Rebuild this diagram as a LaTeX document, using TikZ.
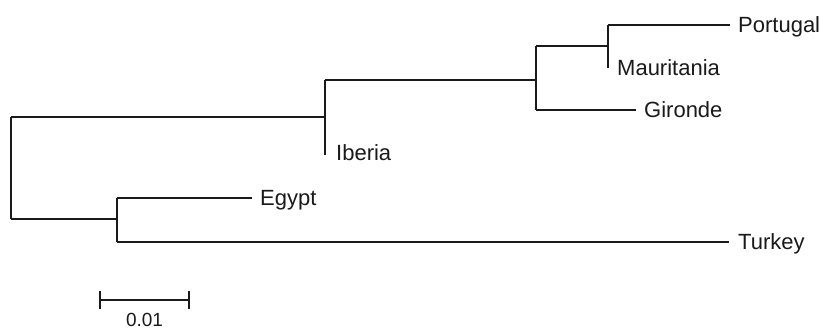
\documentclass[tikz,border=0pt]{standalone}
\usepackage{fontspec}
\setmainfont{Liberation Sans}
\definecolor{ink}{HTML}{1A1A1A}
\begin{document}
\begin{tikzpicture}[x=1pt,y=-1pt,
  branch/.style={draw=ink,line width=2.3pt,line cap=butt,line join=miter},
  taxon/.style={anchor=west,inner sep=0pt,inner xsep=8pt,text height=15.5pt,text depth=0pt,
    text=ink,font=\fontsize{22}{26}\selectfont}]
\useasboundingbox[fill=white] (0,0) rectangle (823,329);
% internal nodes
\coordinate (rt) at (11,117);
\coordinate (rb) at (11,219);
\coordinate (n1) at (325,117);
\coordinate (n1t) at (325,80);
\coordinate (n1b) at (325,155);
\coordinate (n2) at (536,80);
\coordinate (n2t) at (536,46);
\coordinate (n2b) at (536,110);
\coordinate (n3) at (608,46);
\coordinate (n3t) at (608,25);
\coordinate (n3b) at (608,68);
\coordinate (n4) at (117,219);
\coordinate (n4t) at (117,198);
\coordinate (n4b) at (117,242);
% taxa
\node[taxon] (portugal) at (730,25) {Portugal};
\node[taxon,inner xsep=9pt] (mauritania) at (608,68) {Mauritania};
\node[taxon] (gironde) at (636,110) {Gironde};
\node[taxon,inner xsep=10pt] (iberia) at (326,153) {Iberia};
\node[taxon] (egypt) at (252,198) {Egypt};
\node[taxon,inner xsep=9pt] (turkey) at (729,242) {Turkey};
% branches
\draw[branch] (rt) -- (rb);
\draw[branch] (rt) -- (n1);
\draw[branch] (rb) -- (n4);
\draw[branch] (n1t) -- (n1b);
\draw[branch] (n1t) -- (n2);
\draw[branch] (n2t) -- (n2b);
\draw[branch] (n2t) -- (n3);
\draw[branch] (n2b) -- (gironde.west);
\draw[branch] (n3t) -- (n3b);
\draw[branch] (n3t) -- (portugal.west);
\draw[branch] (n4t) -- (n4b);
\draw[branch] (n4t) -- (egypt.west);
\draw[branch] (n4b) -- (turkey.west);
% scale bar
\coordinate (sl) at (100,300);
\coordinate (sr) at (189,300);
\draw[branch] (sl) -- (sr);
\draw[branch] ([yshift=-9pt]sl) -- ([yshift=9pt]sl);
\draw[branch] ([yshift=-9pt]sr) -- ([yshift=9pt]sr);
\node[taxon,anchor=north,inner xsep=0pt,text height=13pt,font=\fontsize{19}{22}\selectfont] (scale) at (144.5,313) {0.01};
\end{tikzpicture}
\end{document}
